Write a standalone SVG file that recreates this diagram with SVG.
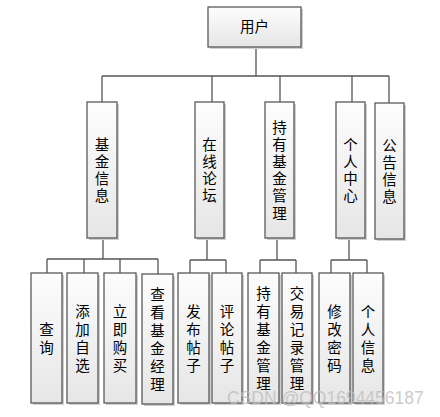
<svg xmlns="http://www.w3.org/2000/svg" width="440" height="417" viewBox="0 0 440 417">
<defs>
<linearGradient id="g" x1="0" y1="0" x2="0" y2="1">
<stop offset="0" stop-color="#fdfdfd"/>
<stop offset="1" stop-color="#e6e6e6"/>
</linearGradient>
<style>
.b{fill:url(#g);stroke:#5a5a5a;stroke-width:1.3}
.s{fill:#cfcfcf}
.t{font-family:"Noto Sans CJK SC","Noto Sans CJK JP",sans-serif;font-size:14.5px;fill:#000;text-anchor:middle}
.v{font-family:"Noto Sans CJK SC","Noto Sans CJK JP",sans-serif;font-size:14.5px;fill:#000;text-anchor:middle;writing-mode:vertical-rl;letter-spacing:2.7px}
.v3{letter-spacing:3.5px}
.c{fill:none;stroke:#555;stroke-width:1.3}
.w{font-family:"Liberation Sans",Arial,sans-serif;font-size:17.5px;fill:#bdbdbd;fill-opacity:0.8}
</style>
</defs>
<rect width="440" height="417" fill="#fff"/>
<g id="connectors" class="c">
<path d="M256 47V76M102 76H389M102 76V102M212 76V102M280 76V102M352 76V102M389 76V103"/>
<path d="M103 238V259M47 259H158M47 259V273M84 259V273M120 259V273M158 259V274"/>
<path d="M207 238V260M190 260H226M190 260V273M226 260V273"/>
<path d="M277 238V260M260 260H296M260 260V273M296 260V273"/>
<path d="M349 238V260M331 260H367M331 260V273M367 260V273"/>
</g>
<g id="user"><rect class="s" x="210" y="9" width="93" height="40"/><rect class="b" x="208" y="7" width="93" height="40"/><text class="t" x="254.5" y="32">用户</text></g>
<g id="jijinxinxi"><rect class="s" x="89" y="104" width="30" height="136"/><rect class="b" x="87" y="102" width="30" height="136"/><text class="v" x="102" y="171.5">基金信息</text></g>
<g id="zaixianluntan"><rect class="s" x="197" y="104" width="29" height="136"/><rect class="b" x="195" y="102" width="29" height="136"/><text class="v" x="209.5" y="171.5">在线论坛</text></g>
<g id="chiyoujijinguanli"><rect class="s" x="267" y="104" width="29" height="136"/><rect class="b" x="265" y="102" width="29" height="136"/><text class="v" x="279.5" y="171.5">持有基金管理</text></g>
<g id="gerenzhongxin"><rect class="s" x="338" y="104" width="29" height="136"/><rect class="b" x="336" y="102" width="29" height="136"/><text class="v" x="350.5" y="171.5">个人中心</text></g>
<g id="gonggaoxinxi"><rect class="s" x="377" y="105" width="29" height="136"/><rect class="b" x="375" y="103" width="29" height="136"/><text class="v" x="389.5" y="172.5">公告信息</text></g>
<g id="chaxun"><rect class="s" x="33" y="275" width="31" height="130"/><rect class="b" x="31" y="273" width="31" height="130"/><text class="v v3" x="46.5" y="340">查询</text></g>
<g id="tianjiazixuan"><rect class="s" x="69" y="275" width="31" height="130"/><rect class="b" x="67" y="273" width="31" height="130"/><text class="v v3" x="82.5" y="340">添加自选</text></g>
<g id="lijigoumai"><rect class="s" x="106" y="275" width="32" height="130"/><rect class="b" x="104" y="273" width="32" height="130"/><text class="v v3" x="120" y="340">立即购买</text></g>
<g id="chakanjijinjingli"><rect class="s" x="144" y="276" width="31" height="130"/><rect class="b" x="142" y="274" width="31" height="130"/><text class="v v3" x="157.5" y="341">查看基金经理</text></g>
<g id="fabutiezi"><rect class="s" x="180" y="275" width="31" height="130"/><rect class="b" x="178" y="273" width="31" height="130"/><text class="v v3" x="193.5" y="340">发布帖子</text></g>
<g id="pinglunTiezi"><rect class="s" x="214" y="275" width="30" height="130"/><rect class="b" x="212" y="273" width="30" height="130"/><text class="v v3" x="227" y="340">评论帖子</text></g>
<g id="chiyoujijinguanli2"><rect class="s" x="250" y="275" width="31" height="130"/><rect class="b" x="248" y="273" width="31" height="130"/><text class="v v3" x="263.5" y="340">持有基金管理</text></g>
<g id="jiaoyijiluguanli"><rect class="s" x="284" y="275" width="30" height="130"/><rect class="b" x="282" y="273" width="30" height="130"/><text class="v v3" x="297" y="340">交易记录管理</text></g>
<g id="xiugaimima"><rect class="s" x="321" y="275" width="31" height="130"/><rect class="b" x="319" y="273" width="31" height="130"/><text class="v v3" x="334.5" y="340">修改密码</text></g>
<g id="gerenxinxi"><rect class="s" x="355" y="275" width="30" height="130"/><rect class="b" x="353" y="273" width="30" height="130"/><text class="v v3" x="368" y="340">个人信息</text></g>
<text class="w" x="227" y="404">CSDN @QQ1694456187</text>
</svg>
